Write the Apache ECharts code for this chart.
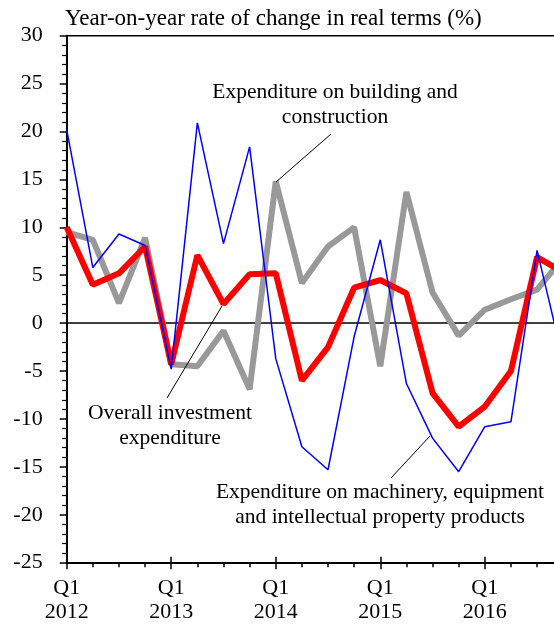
<!DOCTYPE html>
<html lang="en">
<head>
    <meta charset="UTF-8">
    <title>Investment expenditure - year-on-year change</title>
    <script src="https://cdn.jsdelivr.net/npm/echarts@6/dist/echarts.min.js"></script>
    <style>
        body { margin: 0; padding: 0; background: #fff; }
        #chart { width: 554px; height: 626px; }
    </style>
</head>
<body>
<div id="chart"></div>
<script>
    // quarters Q1 2012 .. Q4 2016 (last one falls just outside the picture)
    const quarters = [
        'Q1\n2012', 'Q2\n2012', 'Q3\n2012', 'Q4\n2012',
        'Q1\n2013', 'Q2\n2013', 'Q3\n2013', 'Q4\n2013',
        'Q1\n2014', 'Q2\n2014', 'Q3\n2014', 'Q4\n2014',
        'Q1\n2015', 'Q2\n2015', 'Q3\n2015', 'Q4\n2015',
        'Q1\n2016', 'Q2\n2016', 'Q3\n2016', 'Q4\n2016'
    ];
    const overall = [10.0, 4.0, 5.2, 8.0, -4.3, 7.1, 2.0, 5.1, 5.2, -6.0, -2.5, 3.7, 4.5, 3.1, -7.3, -10.8, -8.7, -5.0, 6.9, 5.3];
    const building = [9.5, 8.7, 2.1, 8.9, -4.3, -4.5, -0.8, -6.9, 14.8, 4.2, 8.0, 10.0, -4.5, 13.7, 3.2, -1.3, 1.4, 2.5, 3.5, 6.8];
    const machinery = [20.2, 5.8, 9.3, 8.1, -4.8, 20.9, 8.3, 18.4, -3.7, -12.9, -15.3, -1.4, 8.7, -6.3, -12.0, -15.5, -10.8, -10.3, 7.6, -3.9];

    const titleText = 'Year-on-year rate of change in real terms (%)';
    const serif = "'Liberation Serif', 'Times New Roman', 'DejaVu Serif', serif";

    const chart = echarts.init(document.getElementById('chart'));

    const qTickAxis = (inside, len) => ({
        type: 'category',
        position: 'bottom',
        data: quarters,
        boundaryGap: false,
        axisLine: { show: false, onZero: false },
        axisLabel: { show: false },
        axisTick: { show: true, inside: inside, length: len, interval: 3, lineStyle: { color: '#000', width: 1.5 } },
        splitLine: { show: false }
    });

    const noteStyle = { fontSize: 21.5, fontFamily: serif, fill: '#000', align: 'center', verticalAlign: 'middle' };
    const leader = (x1, y1, x2, y2) => ({
        type: 'line',
        shape: { x1: x1, y1: y1, x2: x2, y2: y2 },
        style: { stroke: '#000', lineWidth: 1 },
        z: 10
    });

    const option = {
        animation: false,
        backgroundColor: '#fff',
        title: {
            text: titleText,
            left: 65,
            top: 7,
            padding: 0,
            textStyle: { fontSize: 23, fontWeight: 'normal', fontFamily: serif, color: '#000' }
        },
        grid: {
            left: 66.7,
            top: 35.7,
            width: 496.5,
            bottom: 63.3,
            show: true,
            borderColor: '#000',
            borderWidth: 1.5,
            containLabel: false,
            outerBoundsMode: 'none'
        },
        xAxis: [
            {
                type: 'category',
                position: 'bottom',
                data: quarters,
                boundaryGap: false,
                axisLine: { show: true, onZero: false, lineStyle: { color: '#000', width: 2 } },
                axisTick: { show: true, length: 4.5, interval: 0, lineStyle: { color: '#000', width: 1.5 } },
                axisLabel: {
                    interval: 3,
                    color: '#000',
                    fontSize: 22,
                    fontFamily: serif,
                    lineHeight: 24,
                    margin: 14
                },
                splitLine: { show: false }
            },
            qTickAxis(true, 6),
            qTickAxis(false, 6.5)
        ],
        yAxis: {
            type: 'value',
            min: -25,
            max: 30,
            interval: 5,
            axisLine: { show: true, lineStyle: { color: '#000', width: 2 } },
            axisTick: { show: true, length: 7, lineStyle: { color: '#000', width: 1.5 } },
            minorTick: { show: true, splitNumber: 5, length: 4.5, lineStyle: { color: '#000', width: 1.2 } },
            axisLabel: { color: '#000', fontSize: 22, fontFamily: serif, margin: 24 },
            splitLine: { show: false }
        },
        series: [
            {
                name: 'Expenditure on building and construction',
                type: 'line',
                data: building,
                symbol: 'none',
                lineStyle: { color: '#999999', width: 6 },
                z: 2,
                markLine: {
                    silent: true,
                    symbol: 'none',
                    label: { show: false },
                    lineStyle: { color: '#000', width: 1.5, type: 'solid' },
                    data: [{ yAxis: 0 }],
                    z: 1
                }
            },
            {
                name: 'Overall investment expenditure',
                type: 'line',
                data: overall,
                symbol: 'none',
                lineStyle: { color: '#ff0000', width: 6 },
                z: 3
            },
            {
                name: 'Expenditure on machinery, equipment and intellectual property products',
                type: 'line',
                data: machinery,
                symbol: 'none',
                lineStyle: { color: '#0000ff', width: 1.5 },
                z: 4
            }
        ],
        graphic: [
            { type: 'text', x: 335, y: 92, style: Object.assign({ text: 'Expenditure on building and' }, noteStyle), z: 10 },
            { type: 'text', x: 335, y: 117, style: Object.assign({ text: 'construction' }, noteStyle), z: 10 },
            leader(331, 134, 276, 182),
            { type: 'text', x: 170, y: 413, style: Object.assign({ text: 'Overall investment' }, noteStyle), z: 10 },
            { type: 'text', x: 170, y: 438, style: Object.assign({ text: 'expenditure' }, noteStyle), z: 10 },
            leader(167, 398, 222, 306),
            { type: 'text', x: 380, y: 492, style: Object.assign({ text: 'Expenditure on machinery, equipment' }, noteStyle), z: 10 },
            { type: 'text', x: 380, y: 517, style: Object.assign({ text: 'and intellectual property products' }, noteStyle), z: 10 },
            leader(391, 478, 430, 436)
        ]
    };
    chart.setOption(option);
</script>
</body>
</html>
